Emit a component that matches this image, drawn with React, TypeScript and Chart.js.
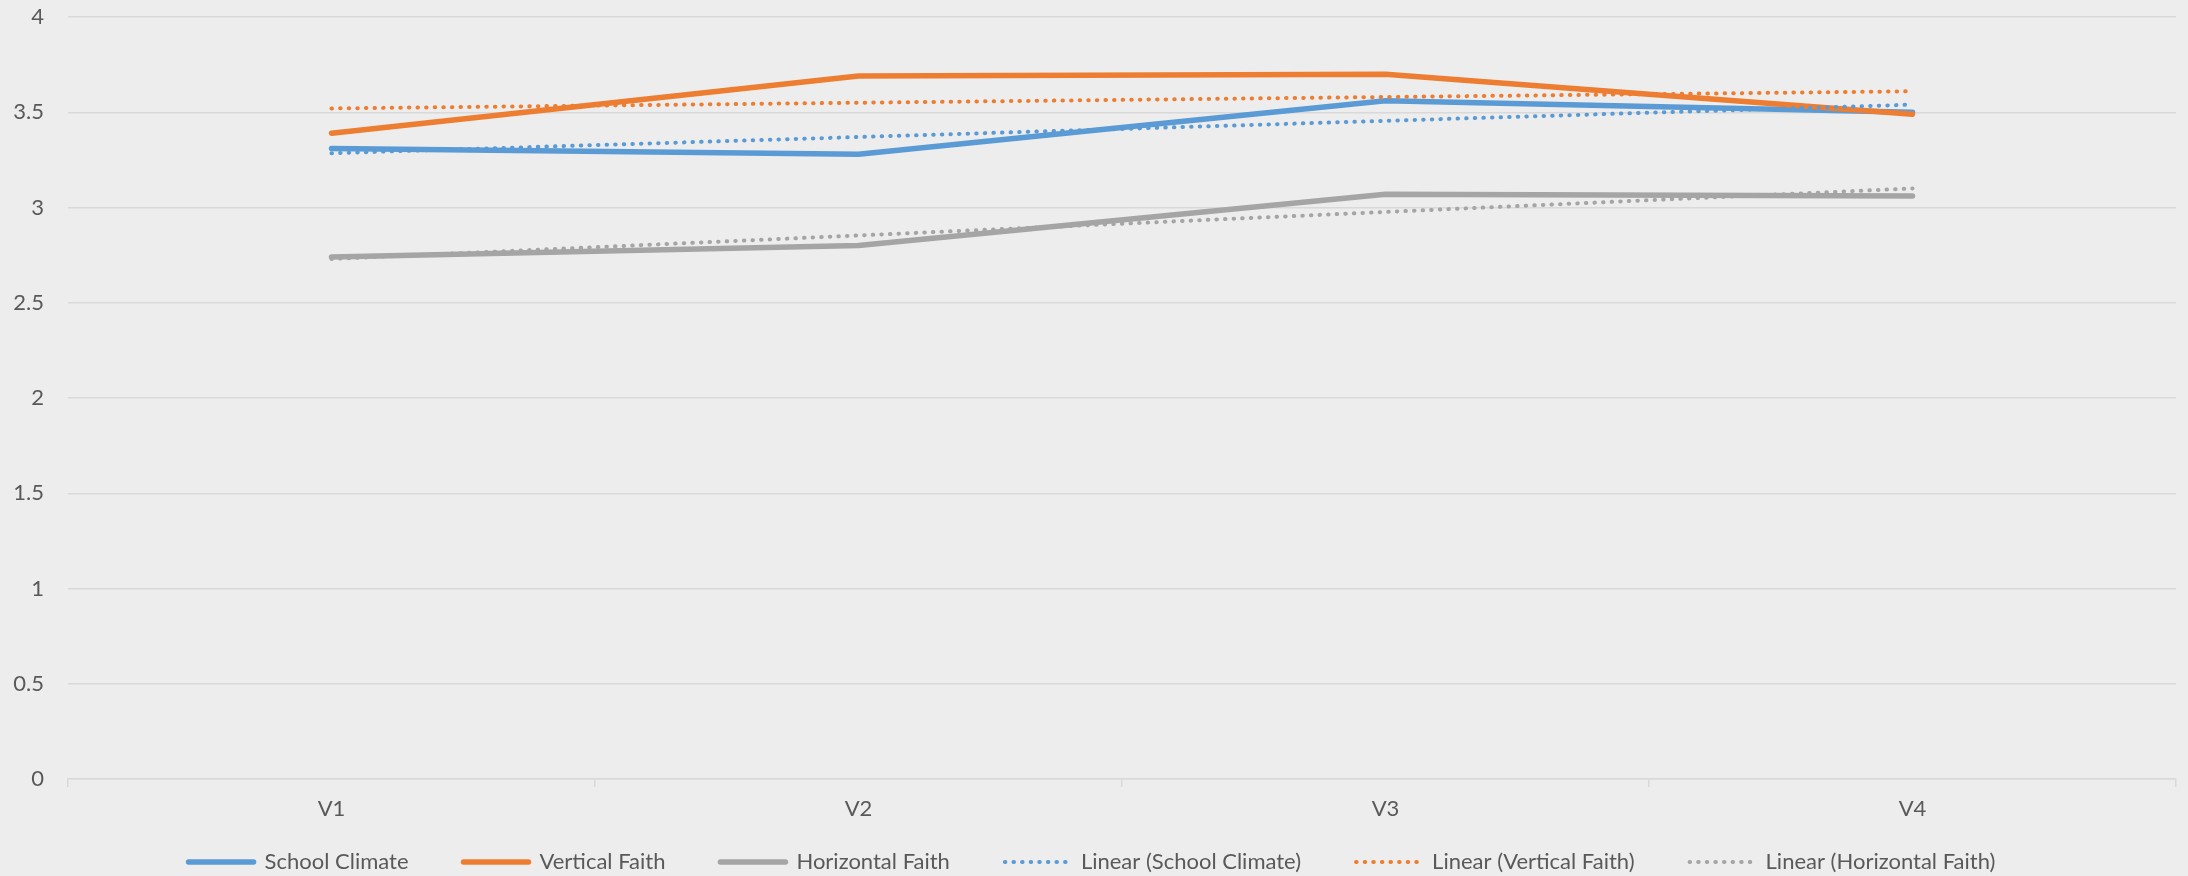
import React, { useEffect, useRef } from "react";
import { Chart, registerables } from "chart.js";

Chart.register(...registerables);

const categories = ["V1", "V2", "V3", "V4"];
const seriesNames = ["School Climate", "Vertical Faith", "Horizontal Faith"];
const trendNames = ["Linear (School Climate)", "Linear (Vertical Faith)", "Linear (Horizontal Faith)"];
const schoolClimate = [3.31, 3.28, 3.56, 3.5];
const verticalFaith = [3.39, 3.69, 3.7, 3.49];
const horizontalFaith = [2.74, 2.8, 3.07, 3.06];
// trendline end values (V1 and V4)
const linearSchoolClimate = [3.285, null, null, 3.54];
const linearVerticalFaith = [3.52, null, null, 3.61];
const linearHorizontalFaith = [2.73, null, null, 3.1];
const yMin = 0;
const yMax = 4;
const yStep = 0.5;

const colors = ["#5B9BD5", "#ED7D31", "#A5A5A5"];
const BG = "#EDEDED";
const TEXT = "#595959";
const GRID = "#D9D9D9";
const FONT = "Lato";
const FONT_SIZE = 22;
const LEGEND_PAD = 55;
const LEGEND_CENTER_Y = 862;

const legendShift = {
  id: "legendShift",
  afterLayout(chart: any) {
    const l = chart.legend;
    if (!l) return;
    l.top = LEGEND_CENTER_Y - LEGEND_PAD - FONT_SIZE / 2;
    l.bottom = chart.height;
    l.height = l.bottom - l.top;
  },
};

export default function App() {
  const ref = useRef<HTMLCanvasElement | null>(null);

  useEffect(() => {
    document.body.style.margin = "0";
    document.body.style.background = BG;
    const canvas = ref.current;
    if (!canvas) return;

    const solid = (label: string, data: number[], color: string, order: number) => ({
      label,
      data,
      borderColor: color,
      backgroundColor: color,
      borderWidth: 5.5,
      borderCapStyle: "round" as const,
      borderJoinStyle: "round" as const,
      pointRadius: 0,
      pointHoverRadius: 0,
      tension: 0,
      fill: false,
      order,
    });
    const dotted = (label: string, data: (number | null)[], color: string, order: number) => ({
      label,
      data,
      borderColor: color,
      backgroundColor: color,
      borderWidth: 4,
      borderDash: [0.5, 8.1],
      borderCapStyle: "round" as const,
      pointRadius: 0,
      pointHoverRadius: 0,
      tension: 0,
      spanGaps: true,
      fill: false,
      order,
    });

    const baseGen = (Chart as any).defaults.plugins.legend.labels.generateLabels;

    const chart = new Chart(canvas, {
      type: "line",
      plugins: [legendShift],
      data: {
        labels: categories,
        datasets: [
          solid(seriesNames[0], schoolClimate, colors[0], 6),
          solid(seriesNames[1], verticalFaith, colors[1], 5),
          solid(seriesNames[2], horizontalFaith, colors[2], 4),
          dotted(trendNames[0], linearSchoolClimate, colors[0], 3),
          dotted(trendNames[1], linearVerticalFaith, colors[1], 2),
          dotted(trendNames[2], linearHorizontalFaith, colors[2], 1),
        ],
      },
      options: {
        animation: false,
        responsive: true,
        maintainAspectRatio: false,
        devicePixelRatio: 1,
        layout: { padding: { top: 17, right: 12, left: 8, bottom: 0 } },
        plugins: {
          tooltip: { enabled: false },
          legend: {
            position: "bottom",
            maxHeight: 52,
            labels: {
              usePointStyle: true,
              pointStyle: "line",
              pointStyleWidth: 65,
              padding: LEGEND_PAD,
              color: TEXT,
              font: { family: FONT, size: FONT_SIZE },
              sort: (a: any, b: any) => a.datasetIndex - b.datasetIndex,
              generateLabels: (ch: any) => {
                const items = baseGen(ch);
                return items.map((it: any) => {
                  const ds = ch.data.datasets[it.datasetIndex];
                  return {
                    ...it,
                    strokeStyle: ds.borderColor,
                    fillStyle: ds.borderColor,
                    lineWidth: ds.borderWidth,
                    lineDash: ds.borderDash || [],
                    lineCap: ds.borderCapStyle || "butt",
                    pointStyle: "line",
                  };
                });
              },
            },
          },
        },
        scales: {
          x: {
            type: "category",
            offset: true,
            grid: {
              offset: true,
              drawOnChartArea: false,
              drawTicks: true,
              tickLength: 8,
              color: GRID,
              lineWidth: 1.5,
            },
            border: { display: true, color: GRID, width: 1.5 },
            ticks: {
              color: TEXT,
              font: { family: FONT, size: FONT_SIZE },
              padding: 9,
              maxRotation: 0,
            },
            afterFit: (s: any) => {
              s.height = 45;
              s.paddingLeft = 0;
              s.paddingRight = 0;
            },
          },
          y: {
            min: yMin,
            max: yMax,
            ticks: {
              stepSize: yStep,
              color: TEXT,
              font: { family: FONT, size: FONT_SIZE },
              padding: 24,
              callback: (v: any) => String(Number(v)),
            },
            grid: { color: GRID, lineWidth: 1.5, drawTicks: false },
            border: { display: false },
            afterFit: (s: any) => {
              s.width = 60;
              s.paddingTop = 0;
              s.paddingBottom = 0;
            },
          },
        },
      },
    });
    return () => chart.destroy();
  }, []);

  return (
    <div style={{ width: 2188, height: 876, background: BG, position: "relative" }}>
      <canvas ref={ref} />
    </div>
  );
}
